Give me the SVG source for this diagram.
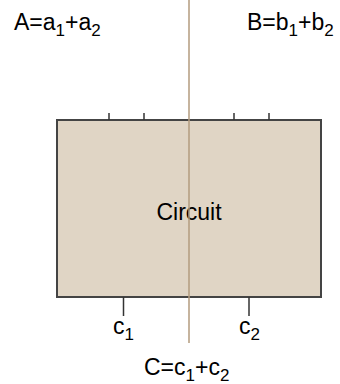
<svg xmlns="http://www.w3.org/2000/svg" width="340" height="384" viewBox="0 0 340 384">
<style>
text{font-family:"Liberation Sans",Arial,sans-serif;font-size:23px;fill:#000}
.sub{font-size:17px}
.tick{stroke:#333;stroke-width:1.5}
.box{fill:#e0d5c5;stroke:#444;stroke-width:2}
.split{stroke:#b39b7e;stroke-width:1.5}
</style>
<rect width="340" height="384" fill="#fff"/>
<g id="circuit">
<rect class="box" x="57" y="120" width="264" height="177"/>
<text x="189" y="220" text-anchor="middle">Circuit</text>
</g>
<g id="connectors">
<line class="tick" x1="109" y1="113" x2="109" y2="120"/>
<line class="tick" x1="144" y1="113" x2="144" y2="120"/>
<line class="tick" x1="234" y1="113" x2="234" y2="120"/>
<line class="tick" x1="269" y1="113" x2="269" y2="120"/>
<line class="tick" x1="123.5" y1="297" x2="123.5" y2="316"/>
<line class="tick" x1="249" y1="297" x2="249" y2="316"/>
<line class="split" x1="189" y1="0" x2="189" y2="343"/>
</g>
<g id="labelA"><text x="14" y="30">A=a<tspan class="sub" dy="6">1</tspan><tspan dy="-6">+a</tspan><tspan class="sub" dy="6">2</tspan></text></g>
<g id="labelB"><text x="247" y="30">B=b<tspan class="sub" dy="6">1</tspan><tspan dy="-6">+b</tspan><tspan class="sub" dy="6">2</tspan></text></g>
<g id="labelC"><text x="144" y="375">C=c<tspan class="sub" dy="6">1</tspan><tspan dy="-6">+c</tspan><tspan class="sub" dy="6">2</tspan></text></g>
<g id="labelc1"><text x="113" y="334">c<tspan class="sub" dy="6">1</tspan></text></g>
<g id="labelc2"><text x="239" y="334">c<tspan class="sub" dy="6">2</tspan></text></g>
</svg>
